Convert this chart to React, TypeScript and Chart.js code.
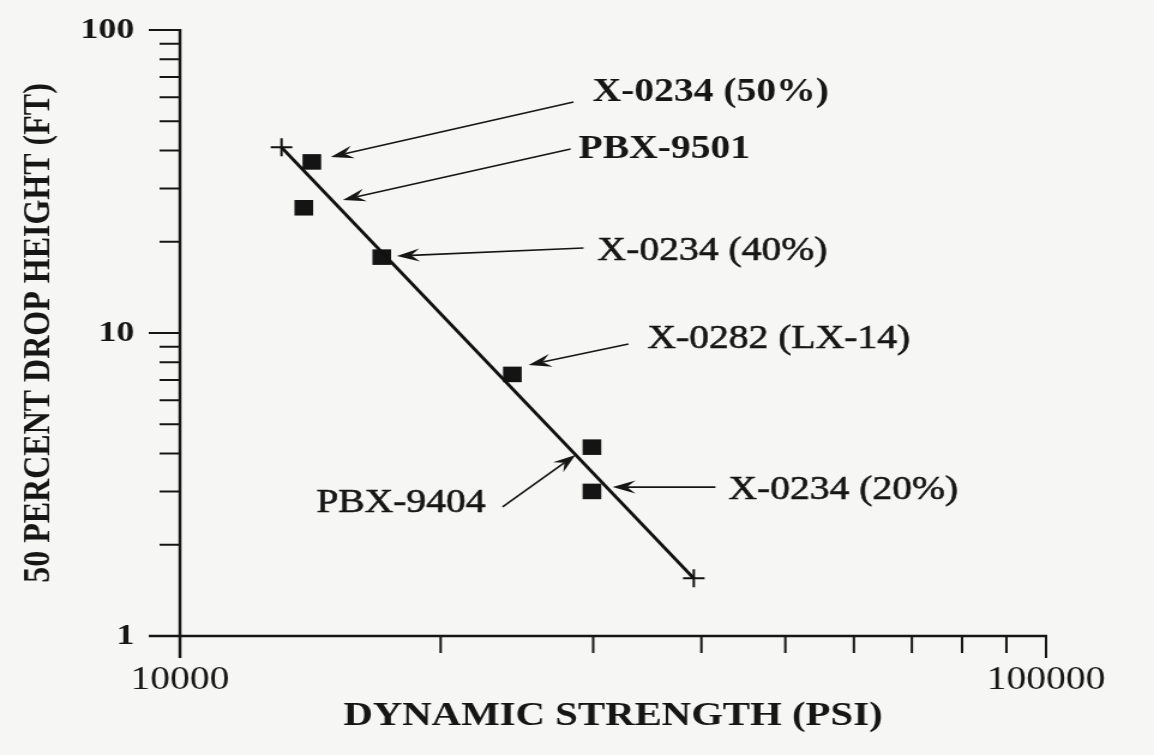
import React, { useEffect, useRef } from 'react';
import { Chart, registerables } from 'chart.js';

Chart.register(...registerables);

// ---- data ----
const strengthPsi = [14200, 13900, 17100, 24200, 29900, 29900];
const dropHeightFt = [36.7, 25.9, 17.8, 7.3, 4.2, 3.0];

const fitStrength = [13100, 39200];
const fitHeight = [41, 1.55];

const xTickValues = [10000, 20000, 30000, 40000, 50000, 60000, 70000, 80000, 90000, 100000];
const xLabelValues = [10000, 100000];
const yTickValues = [1, 2, 3, 4, 5, 6, 7, 8, 9, 10, 20, 30, 40, 50, 60, 70, 80, 90, 100];
const yLabelValues = [1, 10, 100];

const noteLabels = ['X-0234 (50%)', 'PBX-9501', 'X-0234 (40%)', 'X-0282 (LX-14)', 'PBX-9404', 'X-0234 (20%)'];
const noteX = [29950, 28860, 30350, 34650, 22540, 42970];
const noteY = [62.4, 40.2, 18.65, 9.55, 2.75, 3.03];
const arrowFromX = [28470, 28250, 29240, 32950, 23580, 41520];
const arrowFromY = [57.9, 40.5, 19.08, 9.2, 2.67, 3.1];
const arrowToX = [14935, 15420, 17800, 25270, 28620, 31590];
const arrowToY = [38.1, 27.5, 17.96, 7.84, 3.96, 3.1];

// ---- styling ----
const CANVAS_W = 962;
const CANVAS_H = 755;
const FONT = '"Liberation Serif", "Times New Roman", serif';
const INK = '#161616';
const BG = '#f6f6f5';
const noteAlign = ['left', 'left', 'left', 'left', 'right', 'left'];
const noteWeight = ['bold', 'bold', 'normal', 'normal', 'normal', 'normal'];

const isMajor = (v: number) => Math.abs(Math.log10(v) - Math.round(Math.log10(v))) < 1e-9;

const backgroundPlugin = {
  id: 'paper',
  beforeDraw(chart: any) {
    const { ctx, width, height } = chart;
    ctx.save();
    ctx.fillStyle = BG;
    ctx.fillRect(0, 0, width, height);
    ctx.restore();
  },
};

const axesPlugin = {
  id: 'axesDraw',
  beforeDatasetsDraw(chart: any) {
    const { ctx, chartArea, scales } = chart;
    const xs = scales.x;
    const ys = scales.y;
    const { left, right, bottom } = chartArea;
    ctx.save();
    ctx.strokeStyle = INK;
    ctx.lineCap = 'butt';
    ctx.lineWidth = 2.5;
    ctx.beginPath();
    ctx.moveTo(left, ys.getPixelForValue(100) - 1);
    ctx.lineTo(left, bottom + 22);
    ctx.moveTo(left - 26, bottom);
    ctx.lineTo(right + 1, bottom);
    ctx.stroke();
    ctx.lineWidth = 2;
    ctx.beginPath();
    yTickValues.forEach((v) => {
      const py = ys.getPixelForValue(v);
      const len = isMajor(v) ? 26 : 17;
      ctx.moveTo(left - len, py);
      ctx.lineTo(left, py);
    });
    xTickValues.forEach((v) => {
      const px = xs.getPixelForValue(v);
      const len = isMajor(v) ? 22 : 17;
      ctx.moveTo(px, bottom);
      ctx.lineTo(px, bottom + len);
    });
    ctx.stroke();
    ctx.restore();
  },
};

const notesPlugin = {
  id: 'notes',
  afterDatasetsDraw(chart: any) {
    const { ctx, scales } = chart;
    const xs = scales.x;
    const ys = scales.y;
    ctx.save();
    ctx.strokeStyle = INK;
    ctx.fillStyle = INK;
    noteLabels.forEach((label, i) => {
      const x0 = xs.getPixelForValue(arrowFromX[i]);
      const y0 = ys.getPixelForValue(arrowFromY[i]);
      const x1 = xs.getPixelForValue(arrowToX[i]);
      const y1 = ys.getPixelForValue(arrowToY[i]);
      const a = Math.atan2(y1 - y0, x1 - x0);
      const ux = Math.cos(a);
      const uy = Math.sin(a);
      const L = 19;
      const W = 6.5;
      const N = 12;
      ctx.lineWidth = 1.6;
      ctx.beginPath();
      ctx.moveTo(x0, y0);
      ctx.lineTo(x1 - ux * N, y1 - uy * N);
      ctx.stroke();
      ctx.beginPath();
      ctx.moveTo(x1, y1);
      ctx.lineTo(x1 - ux * L - uy * W, y1 - uy * L + ux * W);
      ctx.lineTo(x1 - ux * N, y1 - uy * N);
      ctx.lineTo(x1 - ux * L + uy * W, y1 - uy * L - ux * W);
      ctx.closePath();
      ctx.fill();
      ctx.font = `${noteWeight[i]} 33px ${FONT}`;
      ctx.textAlign = noteAlign[i] as CanvasTextAlign;
      ctx.textBaseline = 'middle';
      const tx = xs.getPixelForValue(noteX[i]);
      const ty = ys.getPixelForValue(noteY[i]);
      ctx.fillText(label, tx, ty);
      if (noteWeight[i] === 'normal') {
        ctx.lineWidth = 0.6;
        ctx.strokeText(label, tx, ty);
      }
    });
    ctx.restore();
  },
};

export default function App() {
  const ref = useRef<HTMLCanvasElement>(null);

  useEffect(() => {
    document.body.style.margin = '0';
    document.body.style.background = BG;
    const canvas = ref.current;
    if (!canvas) return;
    const chart = new Chart(canvas, {
      type: 'scatter',
      data: {
        datasets: [
          {
            label: 'Fit',
            data: fitStrength.map((x, i) => ({ x, y: fitHeight[i] })),
            showLine: true,
            borderColor: '#111',
            borderWidth: 3,
            pointStyle: 'cross',
            pointRadius: 9,
            pointBorderWidth: 2,
            pointBorderColor: '#111',
            pointBackgroundColor: '#111',
          },
          {
            label: 'Explosives',
            data: strengthPsi.map((x, i) => ({ x, y: dropHeightFt[i] })),
            pointStyle: 'rect',
            pointRadius: 11,
            pointBorderWidth: 0,
            pointBackgroundColor: '#141414',
            pointBorderColor: '#141414',
          },
        ],
      },
      options: {
        responsive: false,
        animation: false,
        devicePixelRatio: 1,
        layout: { padding: { top: 30, right: 90, bottom: 0, left: 0 } },
        plugins: {
          legend: { display: false },
          tooltip: { enabled: false },
        },
        scales: {
          x: {
            type: 'logarithmic',
            position: 'bottom',
            min: 10000,
            max: 100000,
            grid: { display: false, drawTicks: false },
            border: { display: false },
            afterBuildTicks: (s: any) => {
              s.ticks = xTickValues.map((v) => ({ value: v, major: isMajor(v) }));
            },
            afterFit: (s: any) => {
              s.height = 119;
              s.paddingLeft = 0;
              s.paddingRight = 0;
              s.paddingTop = 0;
              s.paddingBottom = 0;
            },
            ticks: {
              autoSkip: false,
              maxRotation: 0,
              minRotation: 0,
              padding: 28,
              color: INK,
              font: { family: FONT, size: 33, lineHeight: 1 },
              callback: (v: any) => (xLabelValues.includes(Number(v)) ? String(v) : ''),
            },
            title: {
              display: true,
              text: 'DYNAMIC STRENGTH (PSI)',
              color: INK,
              font: { family: FONT, size: 34, weight: 'bold', lineHeight: 1 },
              padding: { top: 0, bottom: 22 },
            },
          },
          y: {
            type: 'logarithmic',
            position: 'left',
            min: 1,
            max: 100,
            grid: { display: false, drawTicks: false },
            border: { display: false },
            afterBuildTicks: (s: any) => {
              s.ticks = yTickValues.map((v) => ({ value: v, major: isMajor(v) }));
            },
            afterFit: (s: any) => {
              s.width = 150;
              s.paddingLeft = 0;
              s.paddingRight = 0;
              s.paddingTop = 0;
              s.paddingBottom = 0;
            },
            ticks: {
              autoSkip: false,
              padding: 38,
              color: INK,
              font: { family: FONT, size: 30, weight: 'bold', lineHeight: 1 },
              callback: (v: any) => (yLabelValues.includes(Number(v)) ? String(v) : ''),
            },
            title: {
              display: true,
              text: '50 PERCENT DROP HEIGHT (FT)',
              color: INK,
              font: { family: FONT, size: 32, weight: 'bold', lineHeight: 1 },
              padding: { top: 17, bottom: 0 },
            },
          },
        },
      },
      plugins: [backgroundPlugin, axesPlugin, notesPlugin],
    } as any);
    return () => chart.destroy();
  }, []);

  return (
    <div
      style={{
        width: CANVAS_W,
        height: CANVAS_H,
        transform: `scaleX(${1154 / CANVAS_W})`,
        transformOrigin: '0 0',
      }}
    >
      <canvas ref={ref} width={CANVAS_W} height={CANVAS_H} style={{ display: 'block' }} />
    </div>
  );
}
